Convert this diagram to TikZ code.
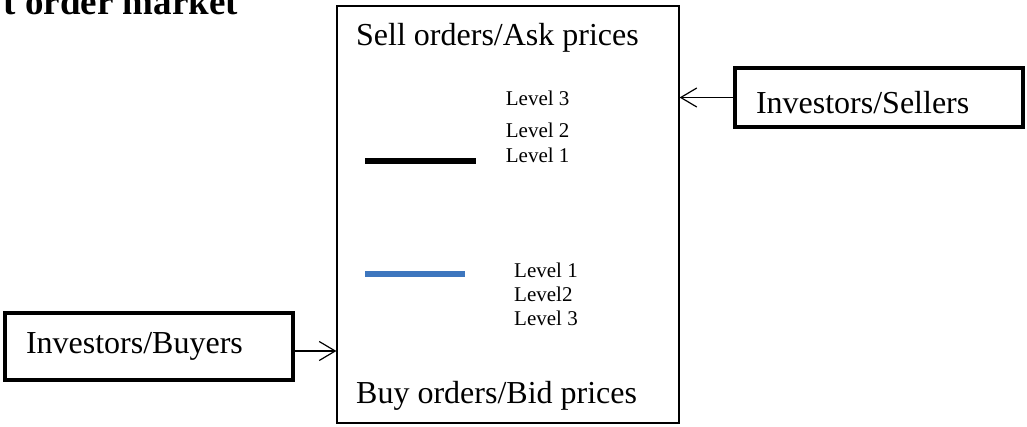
\documentclass[tikz,border=0pt]{standalone}
\usepackage{fontspec}
\setmainfont{Liberation Serif}
\usetikzlibrary{arrows.meta}
\definecolor{bidblue}{RGB}{61,118,190}

\begin{document}
\begin{tikzpicture}[x=1pt, y=-1pt,
    big text/.style={font=\fontsize{32}{38}\selectfont, anchor=base west, inner sep=0pt},
    level/.style={font=\fontsize{21}{25}\selectfont, anchor=base west, inner sep=0pt},
    trader/.style={draw, line width=4.5pt, font=\fontsize{32}{38}\selectfont,
      inner xsep=21pt, text width=246pt, minimum width=288pt},
    >={Straight Barb[length=16pt,width=19pt]}]
          \useasboundingbox (0,0) rectangle (1027,426);

          \node[font=\fontsize{37}{44}\selectfont\bfseries, anchor=base east, inner sep=0pt] (title) at (238,14) {t order market};

          \node[draw, line width=1.2pt, minimum width=342pt, minimum height=417pt] (book) at (508,214.5) {};
          \node[big text] (ask) at (356,45) {Sell orders/Ask prices};
          \node[big text] (bid) at (356,403) {Buy orders/Bid prices};

          \node[level] (ask3) at (505.7,105) {Level 3};
          \node[level] (ask2) at (505.7,137) {Level 2};
          \node[level] (ask1) at (505.7,162) {Level 1};
          \draw[line width=6pt] (365,160.7) -- (476,160.7);

          \node[level] (bid1) at (514,277) {Level 1};
          \node[level] (bid2) at (514,301) {Level2};
          \node[level] (bid3) at (514,325) {Level 3};
          \draw[line width=6pt, bidblue] (365,274) -- (465,274);

          \node[trader, minimum height=59pt, text height=31pt, text depth=0pt] (sellers) at (879,97.5) {Investors/Sellers};
          \node[trader, minimum height=67pt, text height=22pt, text depth=9pt] (buyers) at (149,346.5) {Investors/Buyers};

          \draw[->, line width=1.2pt] (sellers.west) -- (sellers.west -| book.east);
          \draw[->, line width=1.2pt] ([yshift=-4.5pt]buyers.east) -- ([yshift=-4.5pt]buyers.east -| book.west);
        \end{tikzpicture}
\end{document}
